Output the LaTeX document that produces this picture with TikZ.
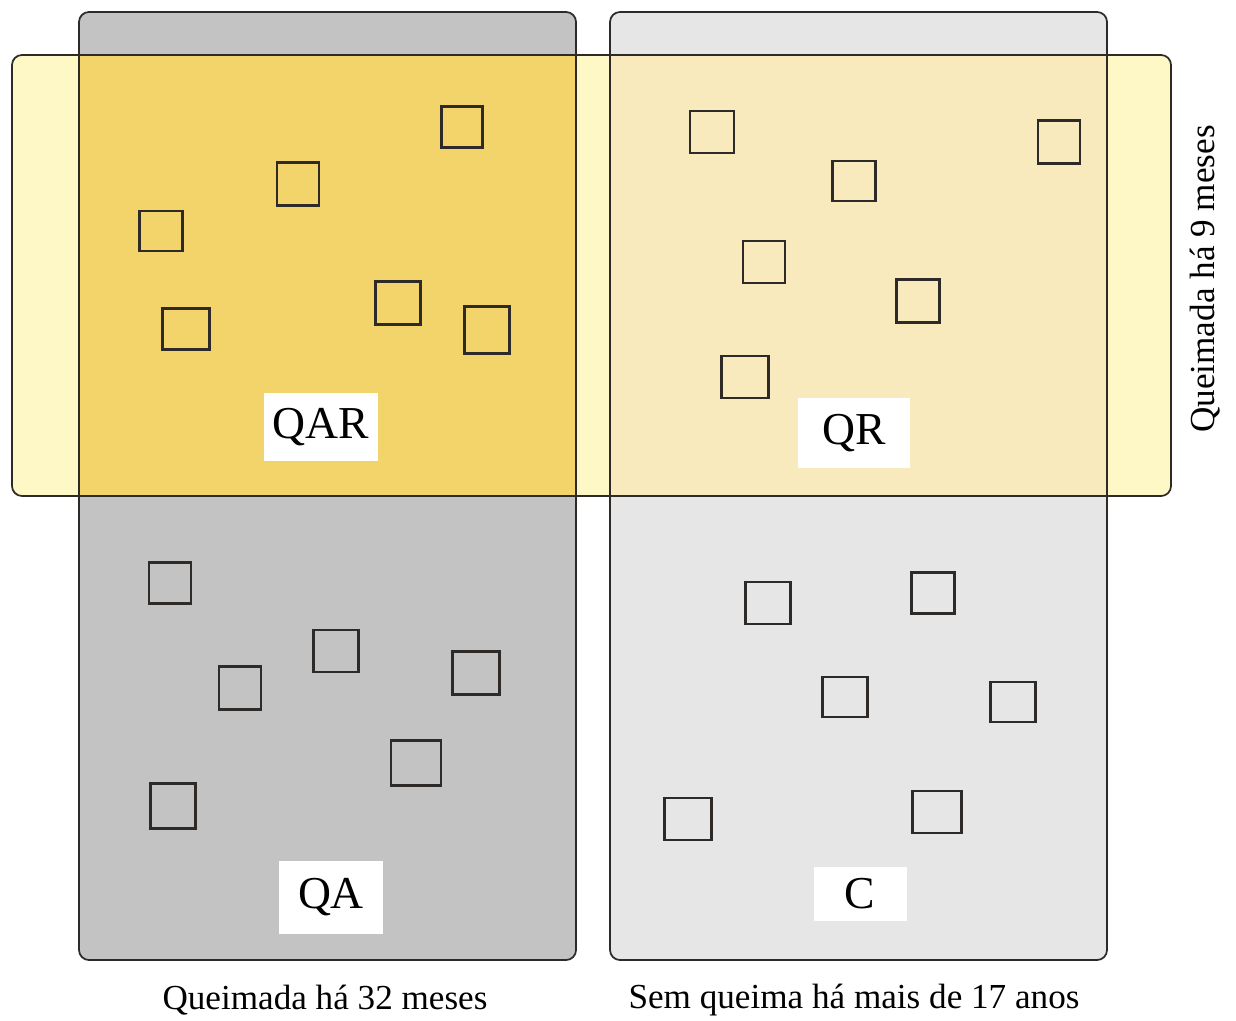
\documentclass[tikz,border=0pt]{standalone}
\usepackage{fontspec}
\setmainfont{Liberation Serif}
\definecolor{cinzaescuro}{HTML}{C3C3C3}
\definecolor{cinzaclaro}{HTML}{E6E6E6}
\definecolor{amarelo}{HTML}{FEF8C7}
\definecolor{dourado}{HTML}{F2D46B}
\definecolor{creme}{HTML}{F8EABD}
\definecolor{contorno}{HTML}{2E2A28}
\begin{document}
\begin{tikzpicture}[x=0.02cm, y=-0.02cm,
    borda/.style={draw=contorno, line width=1pt, rounded corners=0.2cm},
    parcela/.style={draw=contorno, line width=1.4pt},
    rotulo/.style={fill=white, inner sep=0pt, font=\fontsize{26}{30}\selectfont},
    legenda/.style={font=\fontsize{20}{24}\selectfont}]
    \useasboundingbox (0,0) rectangle (1236,1020);

    % Areas
    \fill[cinzaescuro, rounded corners=0.2cm] (79,12) rectangle (576,960);
    \fill[cinzaclaro, rounded corners=0.2cm] (610,12) rectangle (1107,960);
    \fill[amarelo, rounded corners=0.2cm] (12,55) rectangle (1171,496);
    \fill[dourado] (79,55) rectangle (576,496);
    \fill[creme] (610,55) rectangle (1107,496);

    % Contornos
    \draw[borda] (79,12) rectangle (576,960);
    \draw[borda] (610,12) rectangle (1107,960);
    \draw[borda] (12,55) rectangle (1171,496);

    % Parcelas
    \foreach \x/\y/\w/\h in {462/127/41/41, 298/184/42/43, 161/231/43/40,
        186/329/47/41, 398/303/45/43, 487/330/45/47,
        712/132/44/42, 854/181/43/40, 1059/142/42/43,
        764/262/42/42, 918/301/43/43, 745/377/47/42,
        170/583/42/41, 336/651/45/42, 240/688/42/43,
        476/673/47/43, 416/763/50/45, 173/806/45/45,
        768/603/45/42, 933/593/43/41, 845/697/45/40,
        1013/702/45/40, 688/819/47/42, 937/812/49/42} {
      \draw[parcela] (\x-\w/2,\y-\h/2) rectangle ++(\w,\h);
    }

    % Tratamentos
    \foreach \nome/\x/\y/\w/\h in {QAR/321/427/114/68, QR/854/433/112/70,
        QA/331/897/104/73, C/860/894/93/54} {
      \node[rotulo, minimum width=\w*0.02cm, minimum height=\h*0.02cm]
        (\nome) at (\x,\y) {\nome};
    }

    % Legendas
    \node[legenda] (trintaedois) at (325,1000) {Queimada há 32 meses};
    \node[legenda] (dezessete) at (854,1000) {Sem queima há mais de 17 anos};
    \node[legenda, rotate=90] (nove) at (1205,279) {Queimada há 9 meses};

  \end{tikzpicture}
\end{document}
